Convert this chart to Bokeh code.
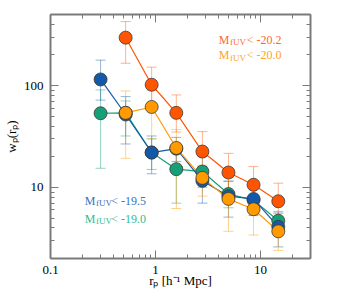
from bokeh.plotting import figure
from bokeh.models import (ColumnDataSource, Whisker, TeeHead, Label, LogAxis,
                          FixedTicker, CustomJSTickFormatter, Range1d)
from bokeh.embed import file_html
from bokeh.resources import INLINE

# ---------------- data ----------------
r_all = [0.30, 0.52, 0.92, 1.58, 2.8, 4.96, 8.6, 14.8]
r_bright = [0.52, 0.92, 1.58, 2.8, 4.96, 8.6, 14.8]

# M_fUV < -20.2
w_202 = [296, 102, 54, 22.5, 14.0, 10.6, 7.3]
up_202 = [426, 152, 81, 35.3, 21.6, 16, 11]
lo_202 = [166, 66, 35, 14.3, 9.1, 7.0, 4.85]

# M_fUV < -20.0
w_200 = [54, 61.7, 24.4, 12.4, 7.7, 6.1, 3.7]
up_200 = [88.7, 90, 37, 16.5, 12.5, 10, 5.5]
lo_200 = [19.3, 30, 6.2, 8.2, 3.7, 3.4, 2.4]

# M_fUV < -19.5
w_195 = [115, 52, 22, 24, 11.6, 8.2, 7.7, 4.1]
up_195 = [178, 78, 32, 31, 16, 11.5, 10.8, 5.6]
lo_195 = [72, 26.7, 13.6, 18, 7.0, 5.1, 5.3, 2.6]

# M_fUV < -19.0
w_190 = [53.5, 54, 22, 15.1, 14.3, 8.6, 7.5, 4.7]
up_190 = [90.7, 70.7, 30, 24, 20, 11.5, 10, 5.8]
lo_190 = [15.4, 32, 15, 7.0, 10, 6.3, 5.5, 3.4]

x_major = [0.1, 1, 10]
x_minor = [0.2, 0.3, 0.4, 0.5, 0.6, 0.7, 0.8, 0.9,
           2, 3, 4, 5, 6, 7, 8, 9, 20, 30]
y_major = [10, 100]
y_minor = [2, 3, 4, 5, 6, 7, 8, 9, 20, 30, 40, 50, 60, 70, 80, 90,
           200, 300, 400, 500]

x_title = "rₚ [h⁻¹ Mpc]"
y_title = "wₚ(rₚ)"

RED = "#FF5500"
ORANGE = "#FF9B00"
BLUE = "#1458A8"
GREEN = "#15A078"

series = [
    ("-19.0", r_all, w_190, up_190, lo_190, GREEN),
    ("-19.5", r_all, w_195, up_195, lo_195, BLUE),
    ("-20.2", r_bright, w_202, up_202, lo_202, RED),
    ("-20.0", r_bright, w_200, up_200, lo_200, ORANGE),
]

SERIF = "Liberation Serif"

p = figure(width=352, height=292, x_axis_type="log", y_axis_type="log",
           x_range=Range1d(0.1, 30), y_range=Range1d(2, 500),
           output_backend="svg", toolbar_location=None,
           min_border_left=50, min_border_right=42,
           min_border_top=14, min_border_bottom=34)
p.xgrid.visible = False
p.ygrid.visible = False
p.outline_line_color = None
p.background_fill_color = "white"
p.border_fill_color = "white"

xt = FixedTicker(ticks=x_major, minor_ticks=x_minor)
yt = FixedTicker(ticks=y_major, minor_ticks=y_minor)
fmt = CustomJSTickFormatter(code="return String(tick);")


def style_axis(ax, show_labels):
    ax.axis_line_color = "#7a7a7a"
    ax.axis_line_width = 2
    ax.major_tick_line_color = "#7a7a7a"
    ax.minor_tick_line_color = "#7a7a7a"
    ax.major_tick_in = 8
    ax.major_tick_out = 0
    ax.minor_tick_in = 4
    ax.minor_tick_out = 0
    if show_labels:
        ax.major_label_text_font = SERIF
        ax.major_label_text_font_size = "13px"
        ax.major_label_text_color = "black"
        ax.major_label_standoff = 7
        ax.formatter = fmt
        ax.axis_label_text_font = SERIF
        ax.axis_label_text_font_size = "13px"
        ax.axis_label_text_font_style = "normal"
        ax.axis_label_text_color = "black"
    else:
        ax.major_label_text_font_size = "1px"
        ax.major_label_text_color = None
        ax.major_label_standoff = 0


p.xaxis.ticker = xt
p.yaxis.ticker = yt
style_axis(p.xaxis[0], True)
style_axis(p.yaxis[0], True)
p.xaxis[0].axis_label = x_title
p.xaxis[0].axis_label_standoff = -4
p.yaxis[0].axis_label = y_title
p.yaxis[0].axis_label_standoff = 2

top_ax = LogAxis(ticker=xt)
style_axis(top_ax, False)
p.add_layout(top_ax, "above")
right_ax = LogAxis(ticker=yt)
style_axis(right_ax, False)
p.add_layout(right_ax, "right")

# error bars first
for name, xs, ws, ups, los, col in series:
    src = ColumnDataSource(dict(x=xs, upper=ups, lower=los))
    wk = Whisker(base="x", upper="upper", lower="lower", source=src,
                 line_color=col, line_alpha=0.45, line_width=1,
                 upper_head=TeeHead(size=10, line_color=col, line_alpha=0.45, line_width=1),
                 lower_head=TeeHead(size=10, line_color=col, line_alpha=0.45, line_width=1))
    p.add_layout(wk)

for name, xs, ws, ups, los, col in series:
    p.line(xs, ws, line_color=col, line_width=1.2)

for name, xs, ws, ups, los, col in series:
    p.scatter(xs, ws, size=13, fill_color=col, line_color="#3a3a3a",
              line_width=0.8)


def lbl(x, y, text, size, color):
    p.add_layout(Label(x=x, y=y, x_units="screen", y_units="screen",
                       text=text, text_font=SERIF, text_font_size=size,
                       text_color=color,
                       text_align="left", text_baseline="alphabetic"))


def legend_entry(x0, y0, rest, color, rest_dx):
    lbl(x0, y0, "M", "12px", color)
    lbl(x0 + 11.2, y0 - 2.8, "fUV", "9px", color)
    lbl(x0 + rest_dx, y0, rest, "12px", color)


legend_entry(168.3, 219, "< -20.2", "#FF6A2A", 28.0)
legend_entry(168.3, 203.7, "< -20.0", "#FFA226", 28.0)
legend_entry(34.3, 58, "< -19.5", "#3A72BE", 26.5)
legend_entry(34.3, 40, "< -19.0", "#33BB8C", 26.5)

open("out.html", "w").write(file_html(p, INLINE))
